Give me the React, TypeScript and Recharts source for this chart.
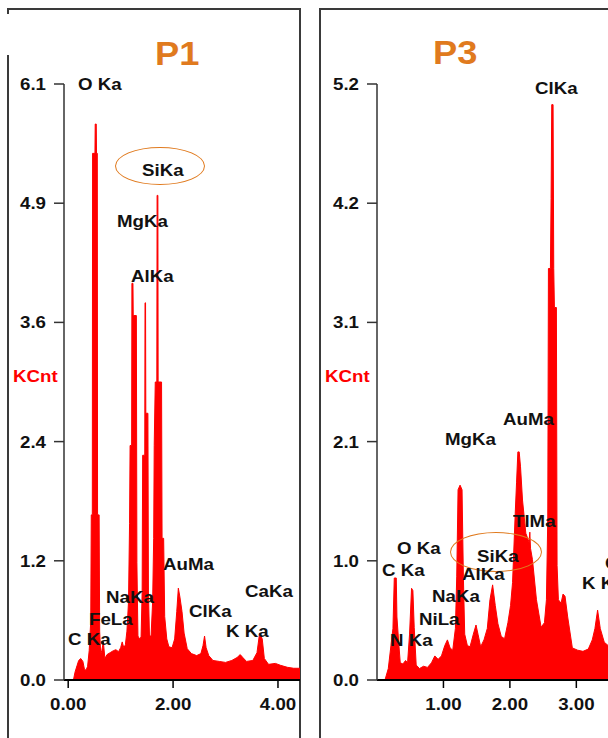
import { AreaChart, Area, XAxis, YAxis } from "recharts";

// P1 spectrum (keV, KCnt)
const p1Energy = [
  0.1, 0.13, 0.17, 0.2, 0.24, 0.28, 0.31, 0.34, 0.37, 0.4, 0.43, 0.44, 0.46,
  0.465, 0.51, 0.515, 0.535, 0.54, 0.555, 0.56, 0.59, 0.6, 0.62, 0.64, 0.67,
  0.7, 0.74, 0.8, 0.86, 0.91, 0.96, 1.0, 1.03, 1.06, 1.09, 1.12, 1.15, 1.17,
  1.18, 1.21, 1.215, 1.235, 1.24, 1.3, 1.31, 1.33, 1.36, 1.39, 1.41, 1.42,
  1.46, 1.465, 1.475, 1.48, 1.52, 1.53, 1.55, 1.58, 1.61, 1.63, 1.64, 1.66,
  1.69, 1.695, 1.71, 1.715, 1.78, 1.79, 1.82, 1.84, 1.88, 1.92, 1.98, 2.03,
  2.07, 2.1, 2.13, 2.17, 2.21, 2.27, 2.35, 2.45, 2.53, 2.57, 2.6, 2.63, 2.68,
  2.76, 2.88, 3.0, 3.12, 3.22, 3.28, 3.33, 3.4, 3.52, 3.6, 3.65, 3.7, 3.74,
  3.82, 3.95, 4.05, 4.18, 4.3, 4.42,
];
const p1Counts = [
  0.0, 0.08, 0.15, 0.2, 0.22, 0.19, 0.11, 0.1, 0.14, 0.3, 0.6, 1.69, 1.69,
  5.39, 5.39, 5.69, 5.69, 5.39, 5.39, 1.69, 1.69, 0.5, 0.26, 0.3, 0.39, 0.22,
  0.26, 0.28, 0.3, 0.31, 0.29, 0.33, 0.39, 0.33, 0.36, 0.5, 0.8, 1.6, 2.4,
  2.4, 4.06, 4.06, 3.73, 3.73, 1.2, 0.45, 0.42, 0.44, 0.9, 2.3, 2.3, 3.86,
  3.86, 2.73, 2.73, 0.9, 0.45, 0.45, 0.8, 1.45, 2.4, 3.05, 3.05, 4.96, 4.96,
  3.05, 3.05, 1.45, 1.45, 0.65, 0.42, 0.34, 0.33, 0.42, 0.7, 0.94, 0.85, 0.7,
  0.48, 0.32, 0.27, 0.25, 0.27, 0.35, 0.45, 0.33, 0.25, 0.2, 0.19, 0.18, 0.2,
  0.23, 0.26, 0.23, 0.19, 0.2, 0.28, 0.48, 0.42, 0.22, 0.16, 0.17, 0.15,
  0.13, 0.12, 0.12,
];

// P3 spectrum (keV, KCnt)
const p3Energy = [
  0.12, 0.17, 0.21, 0.24, 0.26, 0.29, 0.3, 0.33, 0.35, 0.39, 0.43, 0.46, 0.49,
  0.52, 0.54, 0.56, 0.59, 0.64, 0.7, 0.76, 0.82, 0.87, 0.92, 0.97, 1.02, 1.06,
  1.1, 1.14, 1.18, 1.2, 1.22, 1.25, 1.28, 1.3, 1.32, 1.36, 1.4, 1.45, 1.49,
  1.52, 1.56, 1.61, 1.66, 1.7, 1.74, 1.78, 1.82, 1.87, 1.92, 1.97, 2.01, 2.04,
  2.08, 2.1, 2.12, 2.14, 2.16, 2.19, 2.24, 2.29, 2.3, 2.31, 2.34, 2.4, 2.47,
  2.52, 2.55, 2.57, 2.58, 2.61, 2.62, 2.63, 2.65, 2.66, 2.67, 2.7, 2.71, 2.73,
  2.77, 2.8, 2.83, 2.87, 2.94, 3.02, 3.1, 3.18, 3.24, 3.28, 3.32, 3.36, 3.42,
  3.5, 3.58, 3.64, 3.69, 3.74, 3.82, 3.95, 4.1, 4.3, 4.5,
];
const p3Counts = [
  0.0, 0.1, 0.3, 0.45, 0.89, 0.89, 0.55, 0.3, 0.15, 0.14, 0.17, 0.15, 0.4,
  0.8, 0.78, 0.46, 0.13, 0.1, 0.12, 0.11, 0.15, 0.21, 0.18, 0.21, 0.3, 0.35,
  0.28, 0.26, 0.45, 0.9, 1.66, 1.7, 1.66, 0.9, 0.4, 0.3, 0.29, 0.4, 0.48, 0.4,
  0.29, 0.35, 0.45, 0.7, 0.83, 0.65, 0.49, 0.38, 0.36, 0.5, 0.65, 0.85, 1.45,
  1.72, 1.99, 1.99, 1.86, 1.57, 1.28, 1.2, 1.29, 1.15, 1.05, 0.7, 0.46, 0.5,
  0.7, 1.4, 3.59, 3.59, 4.2, 5.02, 5.02, 3.59, 3.25, 3.25, 1.0, 0.7, 0.67,
  0.75, 0.73, 0.55, 0.28, 0.26, 0.25, 0.27, 0.35, 0.45, 0.61, 0.45, 0.33,
  0.29, 0.3, 0.45, 0.6, 0.4, 0.25, 0.22, 0.2, 0.18, 0.16,
];

const p1YTicks = [0, 1.22, 2.44, 3.66, 4.88, 6.1];
const p1YTickLabels = ["0.0", "1.2", "2.4", "3.6", "4.9", "6.1"];
const p3YTicks = [0, 1.04, 2.08, 3.12, 4.16, 5.2];
const p3YTickLabels = ["0.0", "1.0", "2.1", "3.1", "4.2", "5.2"];
const p1XTicks = [0, 2, 4];
const p3XTicks = [1, 2, 3, 4];

const p1Labels = ["O Ka", "SiKa", "MgKa", "AlKa", "AuMa", "NaKa", "CaKa", "FeLa", "ClKa", "C Ka", "K Ka"];
const p3Labels = ["ClKa", "AuMa", "MgKa", "TlMa", "SiKa", "O Ka", "C Ka", "AlKa", "NaKa", "NiLa", "N Ka", "K Ka", "CaKa"];

// label placement: [left, cap top]
const p1LabelPos = [[78, 78], [142, 164], [117, 215], [131, 270], [163, 558], [106, 591], [245, 585], [89, 613], [189, 605], [68, 633], [226, 625]];
const p3LabelPos = [[535, 82], [503, 413], [445, 433], [513, 515], [477, 550], [397, 542], [382, 564], [462, 568], [432, 590], [419, 613], [390, 634], [582, 577], [605, 557]];

const FONT = '"Liberation Sans", Arial, sans-serif';
const ORANGE = "#e07a1e";
const RED = "#ff0000";

function YTick(props: any) {
  const { x, y, index, labels } = props;
  return (
    <text
      transform={`translate(${x},${y}) scale(1.1,1)`}
      textAnchor="end"
      dy="0.355em"
      fontSize={17}
      fontWeight="bold"
      fontFamily={FONT}
      fill="#111"
    >
      {labels[index]}
    </text>
  );
}

function XTick(props: any) {
  const { x, y, payload } = props;
  return (
    <text
      transform={`translate(${x},${y}) scale(1.1,1)`}
      textAnchor="middle"
      dy="0.71em"
      fontSize={17}
      fontWeight="bold"
      fontFamily={FONT}
      fill="#111"
    >
      {Number(payload.value).toFixed(2)}
    </text>
  );
}

function Spectrum({ energy, counts, yMax, yTicks, yLabels, xDomain, xTicks, left, width, yAxisWidth }: any) {
  const data = energy.map((e: number, i: number) => ({ e, kcnt: counts[i] }));
  return (
    <div style={{ position: "absolute", left, top: 0 }}>
      <AreaChart width={width} height={738} data={data} margin={{ top: 84, right: 0, bottom: 0, left: 0 }}>
        <XAxis
          dataKey="e"
          type="number"
          domain={xDomain}
          ticks={xTicks}
          allowDataOverflow
          interval={0}
          height={58}
          axisLine={{ stroke: "#000", strokeWidth: 2 }}
          tickLine={{ stroke: "#000", strokeWidth: 1.5 }}
          tickSize={8}
          tickMargin={10}
          tick={<XTick />}
        />
        <YAxis
          type="number"
          domain={[0, yMax]}
          ticks={yTicks}
          interval={0}
          width={yAxisWidth}
          axisLine={{ stroke: "#333", strokeWidth: 1.5 }}
          tickLine={{ stroke: "#333", strokeWidth: 1.5 }}
          tickSize={10}
          tickMargin={8}
          tick={(p: any) => <YTick {...p} labels={yLabels} />}
        />
        <Area
          type="linear"
          dataKey="kcnt"
          stroke={RED}
          strokeWidth={1}
          fill={RED}
          fillOpacity={1}
          dot={false}
          activeDot={false}
          isAnimationActive={false}
        />
      </AreaChart>
    </div>
  );
}

function Label({ text, x, y }: { text: string; x: number; y: number }) {
  return (
    <span
      style={{
        position: "absolute",
        left: x,
        top: y - 2,
        fontFamily: FONT,
        fontWeight: 700,
        fontSize: 17,
        lineHeight: "17px",
        color: "#111",
        whiteSpace: "nowrap",
        transform: "scaleX(1.1)",
        transformOrigin: "left top",
      }}
    >
      {text}
    </span>
  );
}

const line = (l: number, t: number, w: number, h: number) => (
  <div style={{ position: "absolute", left: l, top: t, width: w, height: h, background: "#3a3a3a" }} />
);

export default function App() {
  return (
    <div
      style={{
        position: "absolute",
        left: 0,
        top: 0,
        width: 608,
        height: 738,
        overflow: "hidden",
        background: "#fff",
      }}
    >
      {/* panel frames */}
      {line(7, 8, 294, 2)}
      {line(299, 8, 2, 730)}
      {line(7, 8, 2, 6)}
      {line(7, 55, 2, 683)}
      {line(319, 8, 300, 2)}
      {line(319, 8, 2, 730)}

      <Spectrum
        energy={p1Energy}
        counts={p1Counts}
        yMax={6.1}
        yTicks={p1YTicks}
        yLabels={p1YTickLabels}
        xDomain={[-0.08, 4.42]}
        xTicks={p1XTicks}
        left={0}
        width={300}
        yAxisWidth={64}
      />
      <Spectrum
        energy={p3Energy}
        counts={p3Counts}
        yMax={5.2}
        yTicks={p3YTicks}
        yLabels={p3YTickLabels}
        xDomain={[0, 4.5]}
        xTicks={p3XTicks}
        left={320}
        width={356}
        yAxisWidth={57}
      />

      {/* titles */}
      <span style={{ position: "absolute", left: 155, top: 37, fontFamily: FONT, fontWeight: 700, fontSize: 33, lineHeight: "33px", color: ORANGE, transform: "scaleX(1.1)", transformOrigin: "left top" }}>P1</span>
      <span style={{ position: "absolute", left: 433, top: 36, fontFamily: FONT, fontWeight: 700, fontSize: 33, lineHeight: "33px", color: ORANGE, transform: "scaleX(1.1)", transformOrigin: "left top" }}>P3</span>

      {/* y axis names */}
      <span style={{ position: "absolute", left: 13, top: 368, fontFamily: FONT, fontWeight: 700, fontSize: 17, lineHeight: "17px", color: RED, transform: "scaleX(1.1)", transformOrigin: "left top" }}>KCnt</span>
      <span style={{ position: "absolute", left: 325, top: 368, fontFamily: FONT, fontWeight: 700, fontSize: 17, lineHeight: "17px", color: RED, transform: "scaleX(1.1)", transformOrigin: "left top" }}>KCnt</span>

      {/* highlight ellipses */}
      <div style={{ position: "absolute", left: 115, top: 147, width: 88, height: 36, border: `1.5px solid ${ORANGE}`, borderRadius: "50%" }} />
      <div style={{ position: "absolute", left: 450, top: 532, width: 90, height: 38, border: `1.5px solid ${ORANGE}`, borderRadius: "50%" }} />

      {p1Labels.map((t, i) => (
        <Label key={"a" + i} text={t} x={p1LabelPos[i][0]} y={p1LabelPos[i][1]} />
      ))}
      {p3Labels.map((t, i) => (
        <Label key={"b" + i} text={t} x={p3LabelPos[i][0]} y={p3LabelPos[i][1]} />
      ))}
    </div>
  );
}
